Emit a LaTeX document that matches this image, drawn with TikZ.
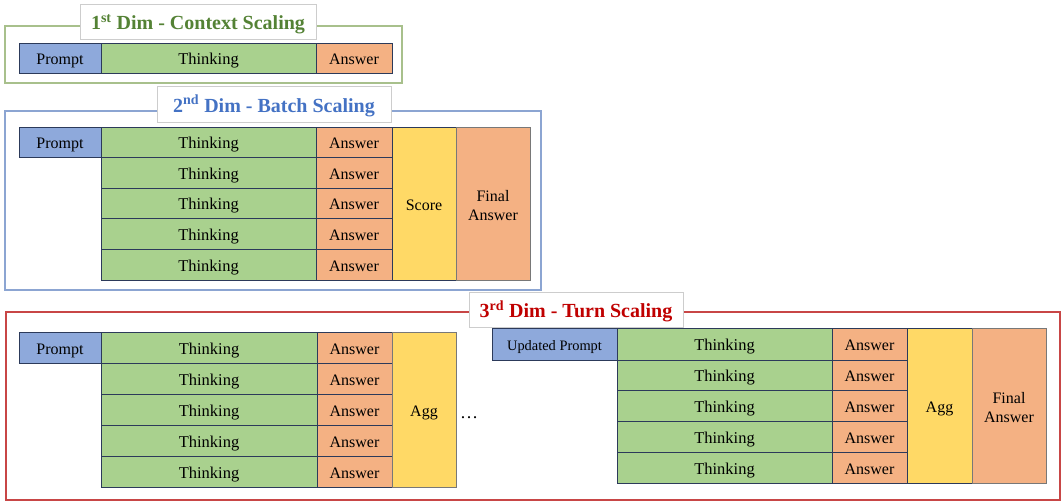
\documentclass[tikz,border=0pt]{standalone}
\usepackage{fontspec}
\setmainfont{Liberation Serif}
\definecolor{cprompt}{RGB}{142,169,219}
\definecolor{cthink}{RGB}{169,209,142}
\definecolor{cans}{RGB}{244,177,131}
\definecolor{cscore}{RGB}{255,217,102}
\definecolor{cedge}{RGB}{44,58,90}
\definecolor{cgedge}{RGB}{120,120,120}
\definecolor{fgreen}{RGB}{168,192,140}
\definecolor{fblue}{RGB}{140,165,210}
\definecolor{fred}{RGB}{200,70,70}
\definecolor{tgreen}{RGB}{84,130,53}
\definecolor{tblue}{RGB}{68,114,196}
\definecolor{tred}{RGB}{192,0,0}
\definecolor{tborder}{RGB}{205,205,205}
\newcommand\mkcell[7]{\node[#2,minimum width={(#5-#3)*1pt},minimum height={(#6-#4)*1pt},anchor=north west] (#1) at (#3,#4) {#7};}
\tikzset{
  x=1pt, y=-1pt,
  base/.style={inner sep=0pt, outer sep=0pt, font=\fontsize{16}{19}\selectfont, text height=13.5pt, text depth=0pt},
  prompt/.style={base, draw=cedge, line width=0.9pt, fill=cprompt},
  think/.style={base, draw=cedge, line width=0.9pt, fill=cthink, font=\fontsize{16.5}{19}\selectfont},
  ans/.style={base, draw=cedge, line width=0.9pt, fill=cans},
  score/.style={base, draw=cedge, line width=0.9pt, fill=cscore},
  final/.style={inner sep=0pt, outer sep=0pt, draw=cgedge, line width=0.9pt, fill=cans},
  finaltext/.style={font=\fontsize{16}{19.5}\selectfont, align=center, yshift=-2pt, inner sep=0pt},
  frame/.style={inner sep=0pt, outer sep=0pt, line width=1.6pt},
  titlebox/.style={inner sep=0pt, outer sep=0pt, draw=tborder, line width=0.8pt, fill=white, font=\fontsize{20}{24}\selectfont\bfseries, text height=17pt, text depth=0pt},
}
\begin{document}
\begin{tikzpicture}
\useasboundingbox (0,0) rectangle (1062,502);
% ---------- 1st dim
\mkcell{f1}{frame, draw=fgreen}{5}{26}{402}{83}{}
\mkcell{t1}{titlebox, text=tgreen}{80}{4}{316}{39}{1\textsuperscript{st} Dim - Context Scaling}
\mkcell{p1}{prompt}{19}{43}{101}{73}{Prompt}
\mkcell{th1}{think}{101}{43}{316}{73}{Thinking}
\mkcell{a1}{ans}{316}{43}{392}{73}{Answer}
% ---------- 2nd dim
\mkcell{f2}{frame, draw=fblue}{5}{111}{541}{290}{}
\mkcell{t2}{titlebox, text=tblue}{157}{86}{391}{122}{2\textsuperscript{nd} Dim - Batch Scaling}
\mkcell{p2}{prompt}{19}{127}{101}{157}{Prompt}
\foreach \ya/\yb [count=\i] in {127/157,157/188,188/218,218/249,249/280}{
  \mkcell{th2-\i}{think}{101}{\ya}{316}{\yb}{Thinking}
  \mkcell{a2-\i}{ans}{316}{\ya}{392}{\yb}{Answer}
}
\mkcell{s2}{score}{392}{127}{456}{280}{Score}
\mkcell{fa2}{final, label={[finaltext]center:Final\\Answer}}{456}{127}{530}{280}{}
% ---------- 3rd dim
\mkcell{f3}{frame, draw=fred}{6}{312}{1060}{500}{}
\mkcell{t3}{titlebox, text=tred}{469}{292}{683}{327}{3\textsuperscript{rd} Dim - Turn Scaling}
\mkcell{p3}{prompt}{19}{332}{101}{363}{Prompt}
\foreach \ya/\yb [count=\i] in {332/363,363/394,394/425,425/456,456/487}{
  \mkcell{th3-\i}{think}{101}{\ya}{317}{\yb}{Thinking}
  \mkcell{a3-\i}{ans}{317}{\ya}{392}{\yb}{Answer}
}
\mkcell{g3}{score, draw=cgedge}{392}{332}{456}{487}{Agg}
\node[inner sep=0pt, anchor=base west, font=\fontsize{18}{20}\selectfont] (dots) at (460,418) {…};
\mkcell{up3}{prompt, font=\fontsize{14.4}{17}\selectfont}{492}{328}{617}{360}{Updated Prompt}
\foreach \ya/\yb [count=\i] in {328/360,360/390,390/421,421/452,452/483}{
  \mkcell{tr3-\i}{think}{617}{\ya}{832}{\yb}{Thinking}
  \mkcell{ar3-\i}{ans}{832}{\ya}{907}{\yb}{Answer}
}
\mkcell{gr3}{score}{907}{328}{972}{483}{Agg}
\mkcell{far3}{final, label={[finaltext]center:Final\\Answer}}{972}{328}{1046}{483}{}
\end{tikzpicture}
\end{document}
